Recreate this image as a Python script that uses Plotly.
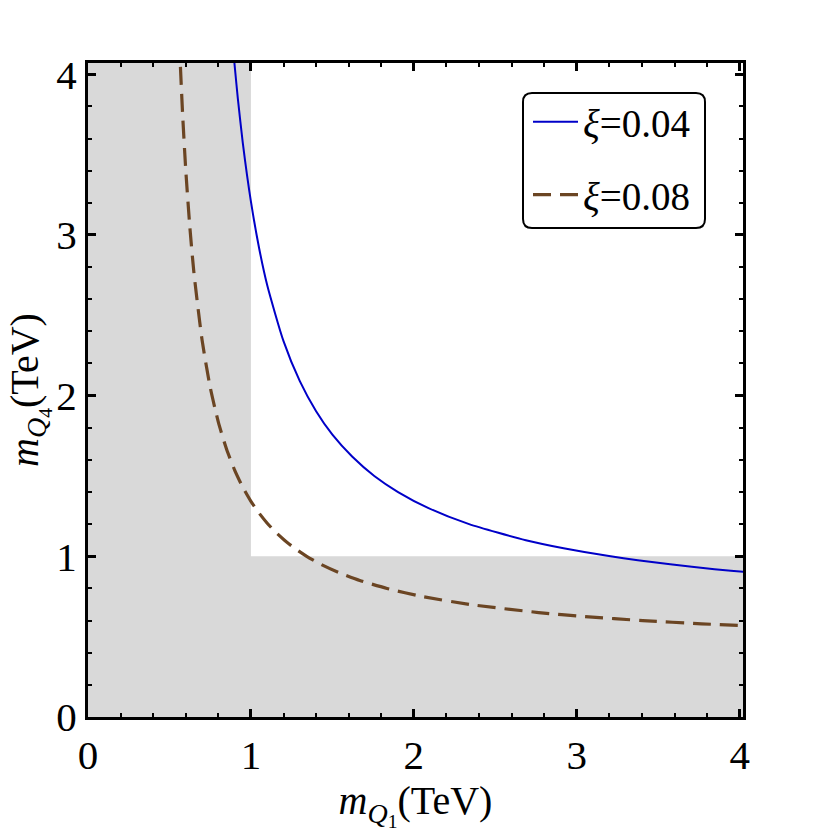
import plotly.graph_objects as go

# ---------------- data ----------------
blue_x = [0.895, 0.90, 0.92, 0.95, 1.00, 1.05, 1.10, 1.20, 1.30, 1.40, 1.50, 1.621,
          1.757, 1.903, 2.090, 2.339, 2.687, 2.919, 3.207, 3.573, 3.845, 4.055, 4.111]
blue_y = [4.111, 4.055, 3.845, 3.573, 3.207, 2.919, 2.687, 2.339, 2.090, 1.903, 1.757, 1.621,
          1.50, 1.40, 1.30, 1.20, 1.10, 1.05, 1.00, 0.95, 0.92, 0.90, 0.895]

brown_x = [0.56, 0.58, 0.60, 0.625, 0.65, 0.70, 0.75, 0.80, 0.85, 0.90, 0.95, 1.00,
           1.05, 1.10, 1.151, 1.206, 1.269, 1.342, 1.430, 1.537, 1.668, 1.835, 2.052,
           2.347, 2.766, 3.050, 3.405, 3.765, 4.214]
brown_y = [4.214, 3.765, 3.405, 3.050, 2.766, 2.347, 2.052, 1.835, 1.668, 1.537, 1.430, 1.342,
           1.269, 1.206, 1.151, 1.10, 1.05, 1.00, 0.95, 0.90, 0.85, 0.80, 0.75,
           0.70, 0.65, 0.625, 0.60, 0.58, 0.56]

series_names = ["<i>ξ</i>=0.04", "<i>ξ</i>=0.08"]
bound = 1.0            # excluded below 1 TeV
x_max, y_max = 4.02, 4.07
tick_vals = [0, 1, 2, 3, 4]
tick_text = ["0", "1", "2", "3", "4"]

FONT = "Liberation Serif"

fig = go.Figure()

# excluded (gray) region
fig.add_trace(go.Scatter(
    x=[0, x_max, x_max, bound, bound, 0, 0],
    y=[0, 0, bound, bound, y_max, y_max, 0],
    fill="toself", fillcolor="#d9d9d9", mode="none",
    showlegend=False, hoverinfo="skip"))

fig.add_trace(go.Scatter(
    x=blue_x, y=blue_y, mode="lines", name=series_names[0],
    line=dict(color="#0000c8", width=2, shape="spline", smoothing=0.6),
    legendgroup="a"))
fig.add_trace(go.Scatter(
    x=brown_x, y=brown_y, mode="lines", name=series_names[1],
    line=dict(color="#6b4523", width=3.2, shape="spline", smoothing=0.6,
              dash="18px,9px"),
    legendgroup="b"))

# layout geometry (pixels)
W, H = 813, 834
L, R, T, B = 88, 70, 63, 117
pw, ph = W - L - R, H - T - B

def px(xp):
    return (xp - L) / pw

def py(yp):
    return (H - B - yp) / ph

# rounded legend box
x0, x1, y0, y1 = px(523), px(705), py(228), py(93)
rx, ry = 9 / pw, 9 / ph
path = (f"M {x0+rx},{y0} L {x1-rx},{y0} Q {x1},{y0} {x1},{y0+ry} "
        f"L {x1},{y1-ry} Q {x1},{y1} {x1-rx},{y1} L {x0+rx},{y1} "
        f"Q {x0},{y1} {x0},{y1-ry} L {x0},{y0+ry} Q {x0},{y0} {x0+rx},{y0} Z")

axis_common = dict(
    showline=True, linecolor="black", linewidth=3, mirror="allticks",
    ticks="inside", ticklen=8, tickwidth=3, tickcolor="black",
    showgrid=False, zeroline=False,
    tickvals=tick_vals, ticktext=tick_text,
    tickfont=dict(family=FONT, size=41, color="black"),
    minor=dict(dtick=0.2, ticks="inside", ticklen=4, tickwidth=2,
               tickcolor="black", showgrid=False),
)

fig.update_layout(
    width=W, height=H,
    margin=dict(l=L, r=R, t=T, b=B),
    paper_bgcolor="white", plot_bgcolor="white",
    font=dict(family=FONT, color="black", size=34),
    xaxis=dict(range=[0, x_max], **axis_common,
               title=dict(text="<i>m</i><sub><i>Q</i><sub>1</sub></sub>(TeV)",
                          font=dict(family=FONT, size=40), standoff=6)),
    yaxis=dict(range=[0, y_max], **axis_common,
               title=dict(text="<i>m</i><sub><i>Q</i><sub>4</sub></sub>(TeV)",
                          font=dict(family=FONT, size=40), standoff=6)),
    legend=dict(x=px(528), y=py(90), xanchor="left", yanchor="top",
                bgcolor="rgba(0,0,0,0)", borderwidth=0,
                font=dict(family=FONT, size=39, color="black"),
                itemwidth=45, tracegroupgap=19),
    shapes=[dict(type="path", xref="paper", yref="paper", path=path,
                 line=dict(color="black", width=2), fillcolor="white",
                 layer="below")],
    showlegend=True,
)

fig.write_html("out.html")
